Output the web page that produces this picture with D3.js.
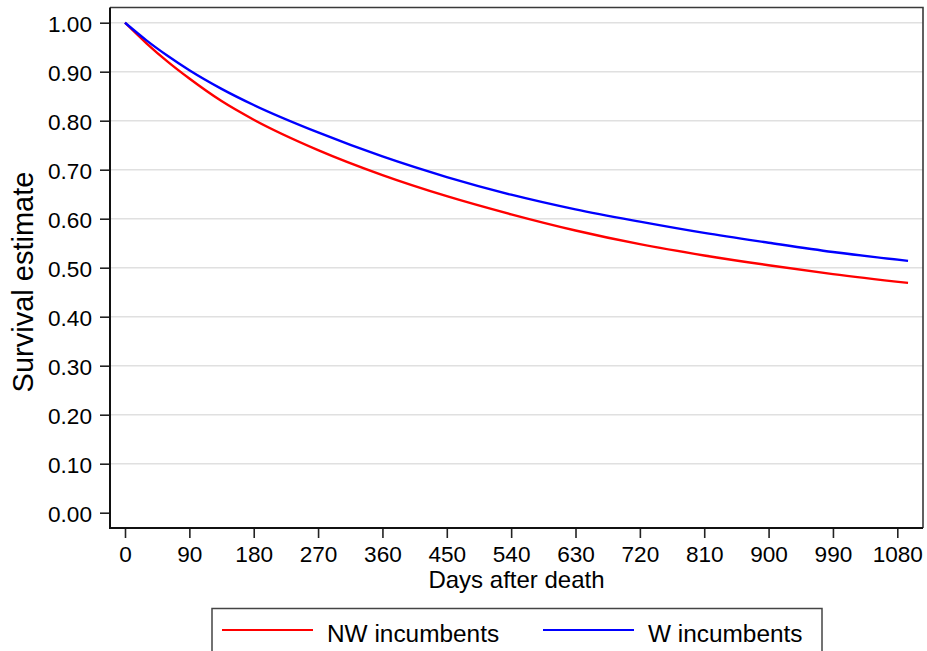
<!DOCTYPE html>
<html>
<head>
<meta charset="utf-8">
<script src="https://cdn.jsdelivr.net/npm/d3@7"></script>
<style>
  body { margin: 0; background: #fff; }
  svg text { font-family: "Liberation Sans", Arial, Helvetica, sans-serif; fill: #000; }
</style>
</head>
<body>
<div id="chart"></div>
<script>
// days after death, survival estimates
const days = [0, 30, 60, 90, 135, 180, 270, 360, 450, 540, 630, 720, 810, 900, 990, 1095];
const nwSurv = [1.000, 0.958, 0.920, 0.886, 0.840, 0.802, 0.740, 0.689, 0.646, 0.609, 0.576, 0.548, 0.525, 0.505, 0.487, 0.469];
const wSurv = [1.000, 0.964, 0.932, 0.903, 0.865, 0.832, 0.776, 0.727, 0.685, 0.649, 0.619, 0.594, 0.571, 0.551, 0.532, 0.514];
const xTicks = [0, 90, 180, 270, 360, 450, 540, 630, 720, 810, 900, 990, 1080];
const yTicks = [0, 0.1, 0.2, 0.3, 0.4, 0.5, 0.6, 0.7, 0.8, 0.9, 1.0];
const seriesNames = ["NW incumbents", "W incumbents"];
const seriesColors = ["#ff0000", "#0000ff"];

const width = 927, height = 651;
// plot region frame
const frame = { left: 110, right: 923, top: 7.5, bottom: 528 };

const svg = d3.select("#chart").append("svg")
    .attr("width", width)
    .attr("height", height);

const x = d3.scaleLinear().domain([0, 1080]).range([125, 897.3]);
const y = d3.scaleLinear().domain([0, 1]).range([512.7, 22.7]);

// gridlines (not at 0)
svg.append("g")
  .selectAll("line")
  .data(yTicks.filter(d => d > 0))
  .enter().append("line")
    .attr("x1", frame.left).attr("x2", frame.right)
    .attr("y1", d => y(d)).attr("y2", d => y(d))
    .attr("stroke", "#e0e0e0")
    .attr("stroke-width", 1.6);

// top and right border
svg.append("path")
    .attr("d", `M${frame.left},${frame.top}H${frame.right}V${frame.bottom}`)
    .attr("fill", "none")
    .attr("stroke", "#3a3a3a")
    .attr("stroke-width", 1.6);

// axes
const yAxis = svg.append("g")
    .attr("transform", `translate(${frame.left},0)`)
    .call(d3.axisLeft(y).tickValues(yTicks).tickSize(10).tickPadding(8).tickFormat(d3.format(".2f")));
yAxis.select(".domain").remove();
yAxis.selectAll(".tick line").attr("stroke", "#222").attr("stroke-width", 1.6);
yAxis.selectAll(".tick text").attr("font-size", "22.6px").attr("dy", "0.38em");

const xAxis = svg.append("g")
    .attr("transform", `translate(0,${frame.bottom})`)
    .call(d3.axisBottom(x).tickValues(xTicks).tickSize(10).tickPadding(8).tickFormat(d3.format("d")));
xAxis.select(".domain").remove();
xAxis.selectAll(".tick line").attr("stroke", "#222").attr("stroke-width", 1.6);
xAxis.selectAll(".tick text").attr("font-size", "22.6px");

// left and bottom axis lines
svg.append("path")
    .attr("d", `M${frame.left},${frame.top}V${frame.bottom}H${frame.right}`)
    .attr("fill", "none")
    .attr("stroke", "#111")
    .attr("stroke-width", 2);

// axis titles
svg.append("text")
    .attr("x", (frame.left + frame.right) / 2)
    .attr("y", 588)
    .attr("text-anchor", "middle")
    .attr("font-size", "24px")
    .text("Days after death");

svg.append("text")
    .attr("transform", "translate(33,282) rotate(-90)")
    .attr("text-anchor", "middle")
    .attr("font-size", "29px")
    .text("Survival estimate");

// curves
const line = d3.line()
    .x(d => x(d[0]))
    .y(d => y(d[1]))
    .curve(d3.curveMonotoneX);

[nwSurv, wSurv].forEach((vals, i) => {
  svg.append("path")
      .datum(days.map((d, j) => [d, vals[j]]))
      .attr("fill", "none")
      .attr("stroke", seriesColors[i])
      .attr("stroke-width", 2.4)
      .attr("d", line);
});

// legend
svg.append("rect")
    .attr("x", 212).attr("y", 608.5)
    .attr("width", 610).attr("height", 60)
    .attr("fill", "#fff")
    .attr("stroke", "#444")
    .attr("stroke-width", 1.5);

const legendX = [222, 543];
seriesNames.forEach((name, i) => {
  svg.append("line")
      .attr("x1", legendX[i]).attr("x2", legendX[i] + 91)
      .attr("y1", 630).attr("y2", 630)
      .attr("stroke", seriesColors[i])
      .attr("stroke-width", 1.8);
  svg.append("text")
      .attr("x", legendX[i] + 105)
      .attr("y", 641.5)
      .attr("font-size", "24.4px")
      .text(name);
});
</script>
</body>
</html>
